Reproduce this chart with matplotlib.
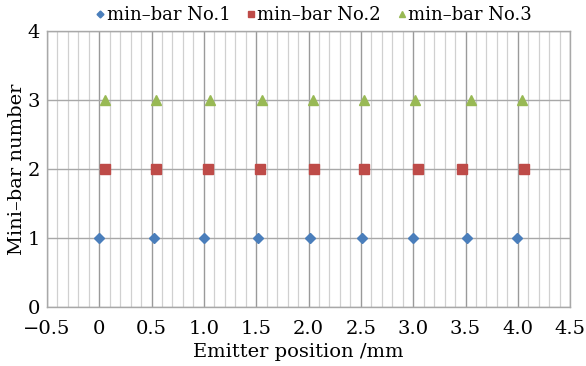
import numpy as np
import matplotlib
matplotlib.use('Agg')
import matplotlib.pyplot as plt
from matplotlib.ticker import MultipleLocator

plt.rcParams['font.family'] = ['DejaVu Serif']

# marker positions
x_bar1 = [0.0, 0.52, 1.0, 1.52, 2.01, 2.51, 3.0, 3.51, 3.99]
x_bar2 = [0.06, 0.54, 1.04, 1.54, 2.05, 2.53, 3.045, 3.465, 4.055]
x_bar3 = [0.06, 0.54, 1.06, 1.555, 2.04, 2.53, 3.02, 3.55, 4.04]
y_bar1 = [1] * len(x_bar1)
y_bar2 = [2] * len(x_bar2)
y_bar3 = [3] * len(x_bar3)

labels = ['min\u2013bar No.1', 'min\u2013bar No.2', 'min\u2013bar No.3']
xticks = [-0.5, 0, 0.5, 1.0, 1.5, 2.0, 2.5, 3.0, 3.5, 4.0, 4.5]
xticklabels = ['\u22120.5', '0', '0.5', '1.0', '1.5', '2.0', '2.5', '3.0', '3.5', '4.0', '4.5']

fig = plt.figure(figsize=(5.86, 3.66), dpi=100)
ax = fig.add_axes([0.080, 0.161, 0.893, 0.754])

ax.set_xlim(-0.5, 4.5)
ax.set_ylim(0, 4)

# grid: minor every 0.1, major every 0.5, horizontal at integers
ax.xaxis.set_minor_locator(MultipleLocator(0.1))
ax.set_xticks(xticks)
ax.set_xticklabels(xticklabels)
ax.set_yticks([0, 1, 2, 3, 4])
ax.grid(which='minor', axis='x', color='#d0d0d0', lw=0.9)
ax.grid(which='major', axis='x', color='#9a9a9a', lw=1.0)
ax.grid(which='major', axis='y', color='#a8a8a8', lw=1.0)
ax.set_axisbelow(True)
for s in ax.spines.values():
    s.set_color('#a8a8a8')
    s.set_linewidth(1.0)
ax.tick_params(which='both', length=0, labelsize=14)
ax.tick_params(axis='x', pad=9)
ax.tick_params(axis='y', pad=5)

ax.plot(x_bar1, y_bar1, 'D', color='#4a7ebb', ms=5, label=labels[0], zorder=3)
ax.plot(x_bar2, y_bar2, 's', color='#be4b48', ms=6.5, label=labels[1], zorder=3)
ax.plot(x_bar3, y_bar3, '^', color='#98b954', ms=7, label=labels[2], zorder=3)

ax.set_xlabel('Emitter position /mm', fontsize=14)
ax.set_ylabel('Mini\u2013bar number', fontsize=14, labelpad=1)
ax.xaxis.set_label_coords(0.48, -0.13)

ax.legend(loc='lower center', bbox_to_anchor=(0.51, 1.025), ncol=3, frameon=False,
          fontsize=13, markerscale=0.7, handlelength=0.5, handletextpad=0.1,
          columnspacing=0.9, borderaxespad=0, borderpad=0)

fig.savefig('out.png', dpi=100)
